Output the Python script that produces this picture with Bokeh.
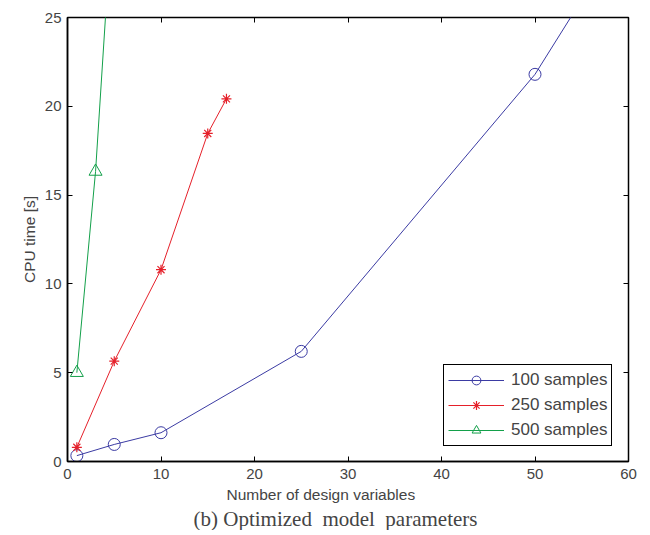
from bokeh.plotting import figure
from bokeh.models import Range1d, LinearAxis, Title, FixedTicker, Legend, LegendItem
from bokeh.embed import file_html
from bokeh.resources import INLINE

# Data
x100 = [1, 5, 10, 25, 50, 100]
y100 = [0.33, 0.96, 1.62, 6.2, 21.8, 63.8]
x250 = [1, 5, 10, 15, 17]
y250 = [0.8, 5.65, 10.8, 18.47, 20.42]
x500 = [1, 3, 5]
y500 = [5.0, 16.33, 32.7]

labels = ["100 samples", "250 samples", "500 samples"]
xticks = [0, 10, 20, 30, 40, 50, 60]
yticks = [0, 5, 10, 15, 20, 25]

BLUE = "#3b3ba3"
RED = "#e5202a"
GREEN = "#13a04a"
FONT = "Liberation Sans"

p = figure(width=638, height=530, output_backend="svg", toolbar_location=None,
           x_range=Range1d(0, 60), y_range=Range1d(0, 25),
           min_border_left=67, min_border_right=10, min_border_top=17, min_border_bottom=4)
p.xgrid.visible = False
p.ygrid.visible = False
p.outline_line_color = "black"
p.outline_line_width = 1.5
p.outline_line_alpha = 1
p.background_fill_color = "white"

for ax in (p.xaxis[0], p.yaxis[0]):
    ax.major_tick_in = 5
    ax.major_tick_out = 0
    ax.minor_tick_in = 0
    ax.minor_tick_out = 0
    ax.axis_line_width = 1.5
    ax.major_tick_line_width = 1
    ax.major_label_text_font = FONT
    ax.major_label_text_font_size = "15px"
    ax.axis_label_text_font = FONT
    ax.axis_label_text_font_size = "15.5px"
    ax.axis_label_text_font_style = "normal"
p.xaxis[0].ticker = FixedTicker(ticks=xticks)
p.yaxis[0].ticker = FixedTicker(ticks=yticks)
p.yaxis[0].axis_label = "CPU time [s]"
p.xaxis[0].major_label_standoff = 7
p.yaxis[0].major_label_standoff = 6
p.yaxis[0].axis_label_standoff = 4

top = LinearAxis(ticker=FixedTicker(ticks=xticks), major_tick_in=5, major_tick_out=0,
                 minor_tick_in=0, minor_tick_out=0, major_label_text_font_size="0px",
                 axis_line_color=None)
right = LinearAxis(ticker=FixedTicker(ticks=yticks), major_tick_in=5, major_tick_out=0,
                   minor_tick_in=0, minor_tick_out=0, major_label_text_font_size="0px",
                   axis_line_color=None)
p.add_layout(top, "above")
p.add_layout(right, "right")

l1 = p.line(x100, y100, line_color=BLUE, line_width=1)
m1 = p.scatter(x100, y100, marker="circle", size=12, fill_color=None, line_color=BLUE, line_width=1)
l2 = p.line(x250, y250, line_color=RED, line_width=1)
m2 = p.scatter(x250, y250, marker="asterisk", size=10, line_color=RED, line_width=1.2)
l3 = p.line(x500, y500, line_color=GREEN, line_width=1)
m3 = p.scatter(x500, y500, marker="triangle", size=13, fill_color=None, line_color=GREEN, line_width=1)

legend = Legend(items=[LegendItem(label=labels[0], renderers=[l1, m1]),
                       LegendItem(label=labels[1], renderers=[l2, m2]),
                       LegendItem(label=labels[2], renderers=[l3, m3])],
                location=(376, 15))
legend.border_line_color = "black"
legend.border_line_width = 1.5
legend.border_line_alpha = 1
legend.label_text_font = FONT
legend.label_text_font_size = "17px"
legend.glyph_width = 56
legend.glyph_height = 22
legend.label_height = 22
legend.label_standoff = 7
legend.spacing = 3
legend.padding = 4
legend.margin = 0
legend.background_fill_alpha = 1
p.add_layout(legend, "center")

xlab = Title(text="Number of design variables", align="left",
             text_font=FONT, text_font_size="15.5px", text_font_style="normal",
             standoff=4, offset=159)
p.add_layout(xlab, "below")
cap = Title(text="(b) Optimized\u00a0\u00a0model\u00a0\u00a0parameters", align="left",
            text_font="Liberation Serif", text_font_size="21px", text_font_style="normal",
            standoff=0, offset=126)
p.add_layout(cap, "below")

open("out.html", "w").write(file_html(p, INLINE))
